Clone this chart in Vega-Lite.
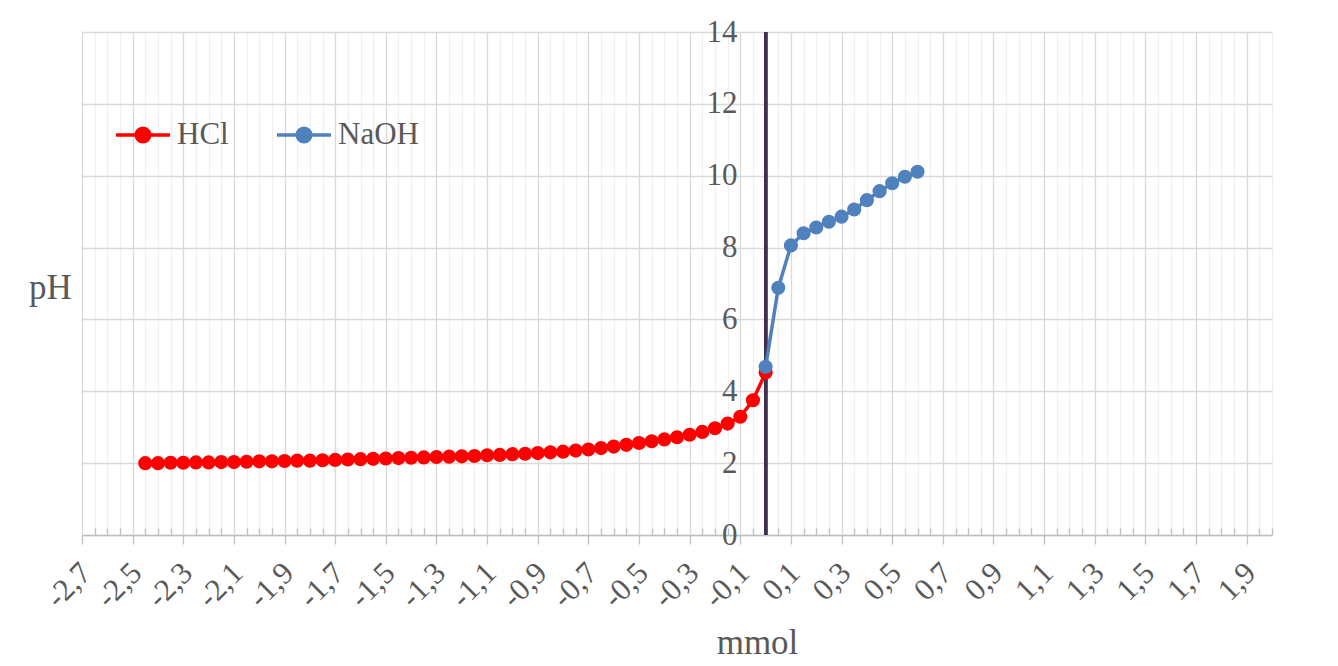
{
  "$schema": "https://vega.github.io/schema/vega-lite/v6.json",
  "autosize": "none",
  "width": 1190,
  "height": 503,
  "padding": {"left": 82, "top": 32, "right": 66, "bottom": 131},
  "background": "white",
  "config": {
    "view": {"stroke": null},
    "font": "Liberation Serif",
    "axis": {"labelFont": "Liberation Serif", "titleFont": "Liberation Serif", "labelColor": "#595959", "titleColor": "#595959", "titleFontWeight": "normal"}
  },
  "data": {"name": "ph"},
  "datasets": {
    "ph": [
      {"mmol": -2.45, "pH": 2.00, "series": "HCl"},
      {"mmol": -2.40, "pH": 2.00, "series": "HCl"},
      {"mmol": -2.35, "pH": 2.01, "series": "HCl"},
      {"mmol": -2.30, "pH": 2.01, "series": "HCl"},
      {"mmol": -2.25, "pH": 2.02, "series": "HCl"},
      {"mmol": -2.20, "pH": 2.02, "series": "HCl"},
      {"mmol": -2.15, "pH": 2.03, "series": "HCl"},
      {"mmol": -2.10, "pH": 2.03, "series": "HCl"},
      {"mmol": -2.05, "pH": 2.04, "series": "HCl"},
      {"mmol": -2.00, "pH": 2.05, "series": "HCl"},
      {"mmol": -1.95, "pH": 2.05, "series": "HCl"},
      {"mmol": -1.90, "pH": 2.06, "series": "HCl"},
      {"mmol": -1.85, "pH": 2.07, "series": "HCl"},
      {"mmol": -1.80, "pH": 2.07, "series": "HCl"},
      {"mmol": -1.75, "pH": 2.08, "series": "HCl"},
      {"mmol": -1.70, "pH": 2.09, "series": "HCl"},
      {"mmol": -1.65, "pH": 2.10, "series": "HCl"},
      {"mmol": -1.60, "pH": 2.11, "series": "HCl"},
      {"mmol": -1.55, "pH": 2.12, "series": "HCl"},
      {"mmol": -1.50, "pH": 2.13, "series": "HCl"},
      {"mmol": -1.45, "pH": 2.14, "series": "HCl"},
      {"mmol": -1.40, "pH": 2.15, "series": "HCl"},
      {"mmol": -1.35, "pH": 2.16, "series": "HCl"},
      {"mmol": -1.30, "pH": 2.17, "series": "HCl"},
      {"mmol": -1.25, "pH": 2.18, "series": "HCl"},
      {"mmol": -1.20, "pH": 2.19, "series": "HCl"},
      {"mmol": -1.15, "pH": 2.20, "series": "HCl"},
      {"mmol": -1.10, "pH": 2.22, "series": "HCl"},
      {"mmol": -1.05, "pH": 2.23, "series": "HCl"},
      {"mmol": -1.00, "pH": 2.25, "series": "HCl"},
      {"mmol": -0.95, "pH": 2.26, "series": "HCl"},
      {"mmol": -0.90, "pH": 2.28, "series": "HCl"},
      {"mmol": -0.85, "pH": 2.30, "series": "HCl"},
      {"mmol": -0.80, "pH": 2.32, "series": "HCl"},
      {"mmol": -0.75, "pH": 2.35, "series": "HCl"},
      {"mmol": -0.70, "pH": 2.38, "series": "HCl"},
      {"mmol": -0.65, "pH": 2.42, "series": "HCl"},
      {"mmol": -0.60, "pH": 2.46, "series": "HCl"},
      {"mmol": -0.55, "pH": 2.51, "series": "HCl"},
      {"mmol": -0.50, "pH": 2.56, "series": "HCl"},
      {"mmol": -0.45, "pH": 2.61, "series": "HCl"},
      {"mmol": -0.40, "pH": 2.66, "series": "HCl"},
      {"mmol": -0.35, "pH": 2.72, "series": "HCl"},
      {"mmol": -0.30, "pH": 2.79, "series": "HCl"},
      {"mmol": -0.25, "pH": 2.87, "series": "HCl"},
      {"mmol": -0.20, "pH": 2.97, "series": "HCl"},
      {"mmol": -0.15, "pH": 3.10, "series": "HCl"},
      {"mmol": -0.10, "pH": 3.29, "series": "HCl"},
      {"mmol": -0.05, "pH": 3.75, "series": "HCl"},
      {"mmol": 0.00, "pH": 4.52, "series": "HCl"},
      {"mmol": 0.00, "pH": 4.68, "series": "NaOH"},
      {"mmol": 0.05, "pH": 6.88, "series": "NaOH"},
      {"mmol": 0.10, "pH": 8.06, "series": "NaOH"},
      {"mmol": 0.15, "pH": 8.40, "series": "NaOH"},
      {"mmol": 0.20, "pH": 8.56, "series": "NaOH"},
      {"mmol": 0.25, "pH": 8.72, "series": "NaOH"},
      {"mmol": 0.30, "pH": 8.86, "series": "NaOH"},
      {"mmol": 0.35, "pH": 9.06, "series": "NaOH"},
      {"mmol": 0.40, "pH": 9.32, "series": "NaOH"},
      {"mmol": 0.45, "pH": 9.57, "series": "NaOH"},
      {"mmol": 0.50, "pH": 9.79, "series": "NaOH"},
      {"mmol": 0.55, "pH": 9.97, "series": "NaOH"},
      {"mmol": 0.60, "pH": 10.11, "series": "NaOH"}
    ]
  },
  "resolve": {"axis": {"x": "independent"}},
  "layer": [
    {
      "mark": {"type": "rule", "color": "#3f3151", "strokeWidth": 2.8},
      "encoding": {
        "x": {
          "datum": 0,
          "type": "quantitative",
          "scale": {"domain": [-2.7, 2.0], "nice": false, "zero": false},
          "axis": {
            "orient": "bottom",
            "values": [-2.65,-2.6,-2.55,-2.45,-2.4,-2.35,-2.25,-2.2,-2.15,-2.05,-2.0,-1.95,-1.85,-1.8,-1.75,-1.65,-1.6,-1.55,-1.45,-1.4,-1.35,-1.25,-1.2,-1.15,-1.05,-1.0,-0.95,-0.85,-0.8,-0.75,-0.65,-0.6,-0.55,-0.45,-0.4,-0.35,-0.25,-0.2,-0.15,-0.05,0,0.05,0.15,0.2,0.25,0.35,0.4,0.45,0.55,0.6,0.65,0.75,0.8,0.85,0.95,1.0,1.05,1.15,1.2,1.25,1.35,1.4,1.45,1.55,1.6,1.65,1.75,1.8,1.85,1.95,2.0],
            "grid": true,
            "gridColor": "#f0f0f0",
            "gridWidth": 1.3,
            "domain": false,
            "ticks": true,
            "tickColor": "#bfbfbf",
            "tickWidth": 1.3,
            "tickSize": -7,
            "labels": false,
            "title": null
          }
        }
      }
    },
    {
      "mark": {"type": "line", "strokeWidth": 3.5, "point": {"filled": true, "size": 200, "opacity": 1}},
      "encoding": {
        "x": {
          "field": "mmol",
          "type": "quantitative",
          "scale": {"domain": [-2.7, 2.0], "nice": false, "zero": false},
          "axis": {
            "orient": "bottom",
            "values": [-2.7,-2.5,-2.3,-2.1,-1.9,-1.7,-1.5,-1.3,-1.1,-0.9,-0.7,-0.5,-0.3,-0.1,0.1,0.3,0.5,0.7,0.9,1.1,1.3,1.5,1.7,1.9],
            "labelExpr": "(datum.value < 0 ? '-' : '') + replace(format(abs(datum.value), '.1f'), '.', ',')",
            "grid": true,
            "gridColor": "#d9d9d9",
            "gridWidth": 1.3,
            "domain": true,
            "domainColor": "#bfbfbf",
            "domainWidth": 1.5,
            "ticks": true,
            "tickColor": "#bfbfbf",
            "tickWidth": 1.3,
            "tickSize": 9,
            "labelAngle": -45,
            "labelAlign": "right",
            "labelBaseline": "middle",
            "labelPadding": 24,
            "labelOffset": 4,
            "labelFontSize": 31,
            "labelOverlap": false,
            "labelBound": false,
            "labelFlush": false,
            "title": "mmol",
            "titleFontSize": 35,
            "titleX": 675,
            "titleY": 118,
            "titleAlign": "center",
            "titleBaseline": "alphabetic"
          }
        },
        "y": {
          "field": "pH",
          "type": "quantitative",
          "scale": {"domain": [0, 14], "nice": false},
          "axis": {
            "values": [0, 2, 4, 6, 8, 10, 12, 14],
            "offset": -683,
            "grid": true,
            "gridColor": "#d9d9d9",
            "gridWidth": 1.3,
            "domain": false,
            "ticks": false,
            "labelPadding": 28,
            "labelFontSize": 31,
            "labelFlush": false,
            "labelBound": false,
            "title": "pH",
            "titleFontSize": 35,
            "titleAngle": 0,
            "titleX": -715,
            "titleY": 255,
            "titleAlign": "center",
            "titleBaseline": "middle"
          }
        },
        "color": {
          "field": "series",
          "type": "nominal",
          "scale": {"domain": ["HCl", "NaOH"], "range": ["#ff0000", "#4f81bd"]},
          "legend": {
            "orient": "none",
            "legendX": 41,
            "legendY": 83,
            "direction": "horizontal",
            "title": null,
            "symbolType": "M-1.5,0L1.5,0M-0.38,0A0.38,0.38,0,1,1,0.38,0A0.38,0.38,0,1,1,-0.38,0Z",
            "symbolSize": 1296,
            "symbolStrokeWidth": 3.5,
            "labelFont": "Liberation Serif",
            "labelFontSize": 31,
            "labelColor": "#595959",
            "labelOffset": 14,
            "columnPadding": 41,
            "encode": {
              "symbols": {
                "update": {
                  "fill": {"scale": "color", "field": "value"},
                  "stroke": {"scale": "color", "field": "value"},
                  "opacity": {"value": 1}
                }
              }
            }
          }
        }
      }
    }
  ]
}
